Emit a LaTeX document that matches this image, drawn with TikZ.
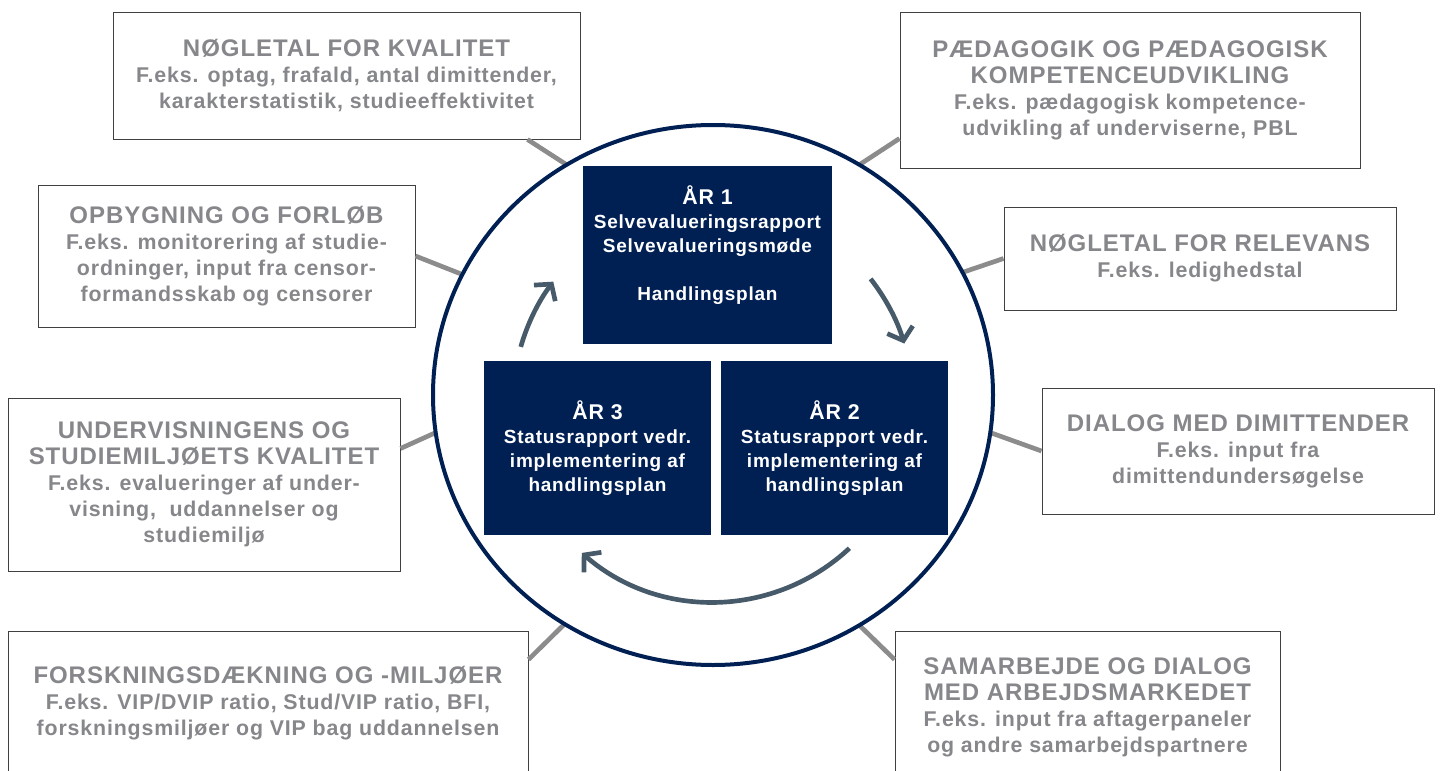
\documentclass[tikz,border=0pt]{standalone}
\usepackage{fontspec}
\newfontfamily\boxfont{Liberation Sans}[LetterSpace=4]
\usetikzlibrary{arrows.meta,calc}

\definecolor{navy}{RGB}{0,32,84}
\definecolor{slate}{RGB}{70,90,106}
\definecolor{graytext}{RGB}{134,135,139}
\definecolor{spokegray}{RGB}{140,140,140}
\definecolor{boxline}{RGB}{64,64,64}

\newcommand\boxhead[1]{{\fontsize{18}{20}\selectfont #1}}
\newcommand\yearhead[1]{{\fontsize{16}{18}\selectfont #1}}

\tikzset{every picture/.style={line width=0.75pt}}

\begin{document}
\begin{tikzpicture}[x=0.75pt,y=0.75pt,yscale=-1,xscale=1,
  infobox/.style={draw=boxline, fill=white, text=graytext, align=center, inner sep=0pt,
    font=\boxfont\bfseries\fontsize{16}{19.5}\selectfont},
  yearbox/.style={fill=navy, text=white, align=center, inner sep=0pt,
    font=\boxfont\bfseries\fontsize{14.25}{18}\selectfont,
    minimum width=170.25pt, minimum height=130.5pt},
  spoke/.style={draw=spokegray, line width=3.5pt},
  turn/.style={draw=slate, line width=3.5pt, -{Straight Barb[length=8.5pt,width=20pt]}}]
%set diagram size 1440 x 771
\clip (0,0) rectangle (1440,771);

%Centres of ring and turn arrows
\coordinate (c) at (713,395);
\coordinate (mid) at (713,402);

% Text Node: outer boxes
\node [infobox, minimum width=350.25pt, minimum height=95.25pt] (k1) at (346.5,75.5)
  {\boxhead{NØGLETAL FOR KVALITET}\\F.eks. optag, frafald, antal dimittender,\\karakterstatistik, studieeffektivitet};
\node [infobox, minimum width=345pt, minimum height=117pt] (k2) at (1130,90)
  {\boxhead{PÆDAGOGIK OG PÆDAGOGISK}\\\boxhead{KOMPETENCEUDVIKLING}\\F.eks. pædagogisk kompetence-\\udvikling af underviserne, PBL};
\node [infobox, minimum width=282.75pt, minimum height=106.5pt] (k3) at (226.5,256)
  {\boxhead{OPBYGNING OG FORLØB}\\F.eks. monitorering af studie-\\ordninger, input fra censor-\\formandsskab og censorer};
\node [infobox, minimum width=294pt, minimum height=77.25pt] (k4) at (1200,258.5)
  {\boxhead{NØGLETAL FOR RELEVANS}\\F.eks. ledighedstal};
\node [infobox, minimum width=294pt, minimum height=94.5pt] (k5) at (1238,451)
  {\boxhead{DIALOG MED DIMITTENDER}\\F.eks. input fra\\dimittendundersøgelse};
\node [infobox, minimum width=294pt, minimum height=129.75pt] (k6) at (204,484.5)
  {\boxhead{UNDERVISNINGENS OG}\\\boxhead{STUDIEMILJØETS KVALITET}\\F.eks. evalueringer af under-\\visning,\ \ uddannelser og\\studiemiljø};
\node [infobox, minimum width=390pt, minimum height=108pt] (k7) at (268,703)
  {\boxhead{FORSKNINGSDÆKNING OG -MILJØER}\\F.eks. VIP/DVIP ratio, Stud/VIP ratio, BFI,\\forskningsmiljøer og VIP bag uddannelsen};
\node [infobox, minimum width=288.75pt, minimum height=114pt] (k8) at (1087.5,707)
  {\boxhead{SAMARBEJDE OG DIALOG}\\\boxhead{MED ARBEJDSMARKEDET}\\F.eks. input fra aftagerpaneler\\og andre samarbejdspartnere};

%Points on the ring
\coordinate (e1) at ($(c)+(-121.5:280 and 270)$);
\coordinate (e2) at ($(c)+(-58.5:280 and 270)$);
\coordinate (e3) at ($(c)+(-153.5:280 and 270)$);
\coordinate (e4) at ($(c)+(-27:280 and 270)$);
\coordinate (e5) at ($(c)+(8:280 and 270)$);
\coordinate (e6) at ($(c)+(172:280 and 270)$);
\coordinate (e7) at ($(c)+(122:280 and 270)$);
\coordinate (e8) at ($(c)+(58.5:280 and 270)$);

%Straight Lines: spokes
\draw [spoke] ([xshift=-39.75pt]k1.south east) -- (e1);
\draw [spoke] ([yshift=-22.5pt]k2.south west) -- (e2);
\draw [spoke] (k3.east) -- (e3);
\draw [spoke] (k4.west) -- (e4);
\draw [spoke] (k5.west) -- (e5);
\draw [spoke] ([yshift=-27pt]k6.east) -- (e6);
\draw [spoke] ([yshift=21.75pt]k7.north east) -- (e7);
\draw [spoke] ([yshift=21.75pt]k8.north west) -- (e8);

%Shape: Ellipse
\draw [draw=navy, line width=3pt] (c) ellipse [x radius=280, y radius=270];

% Text Node: years
\node [yearbox, minimum width=186.75pt, minimum height=133.5pt] (y1) at (707.5,255)
  {\yearhead{ÅR 1}\\Selvevalueringsrapport\\Selvevalueringsmøde\\[18pt]Handlingsplan\\ \mbox{}};
\node [yearbox] (y3) at (597.5,448)
  {\yearhead{ÅR 3}\\Statusrapport vedr.\\implementering af\\handlingsplan};
\node [yearbox] (y2) at (834.5,448)
  {\yearhead{ÅR 2}\\Statusrapport vedr.\\implementering af\\handlingsplan};

%Curve Lines: turn arrows
\draw [turn] ($(mid)+(-38:200)$) arc [start angle=-38, end angle=-17, radius=200];
\draw [turn] ($(mid)+(47:200)$) arc [start angle=47, end angle=131, radius=200];
\draw [turn] ($(mid)+(-164:200)$) arc [start angle=-164, end angle=-143, radius=200];

\end{tikzpicture}
\end{document}
